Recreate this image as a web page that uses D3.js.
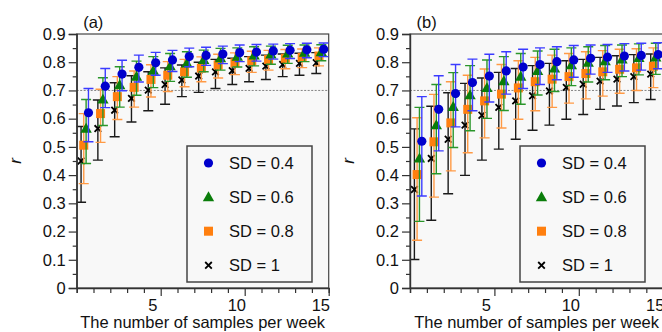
<!DOCTYPE html>
<html>
<head>
<meta charset="utf-8">
<script src="https://cdn.jsdelivr.net/npm/d3@7"></script>
<style>
  body { margin: 0; background: #fff; }
  svg { display: block; font-family: "Liberation Sans", Arial, sans-serif; }
</style>
</head>
<body>
<svg id="chart" width="662" height="332"></svg>
<script>
// samples per week (x categories)
const samples = [1, 2, 3, 4, 5, 6, 7, 8, 9, 10, 11, 12, 13, 14, 15]
const seriesNames = ['SD = 1', 'SD = 0.8', 'SD = 0.6', 'SD = 0.4']
const legendOrder = ['SD = 0.4', 'SD = 0.6', 'SD = 0.8', 'SD = 1']
const yTickValues = [0, 0.1, 0.2, 0.3, 0.4, 0.5, 0.6, 0.7, 0.8, 0.9]
const yTickLabels = ['0', '0.1', '0.2', '0.3', '0.4', '0.5', '0.6', '0.7', '0.8', '0.9']
const xTickLabels = [5, 10, 15]
const threshold = 0.7

// panel (a)
const a04Mean = [0.621, 0.715, 0.758, 0.782, 0.798, 0.808, 0.820, 0.824, 0.829, 0.834, 0.836, 0.840, 0.842, 0.844, 0.846]
const a04Hi   = [0.707, 0.778, 0.807, 0.825, 0.835, 0.842, 0.850, 0.853, 0.857, 0.861, 0.863, 0.864, 0.866, 0.867, 0.868]
const a04Lo   = [0.518, 0.639, 0.699, 0.730, 0.754, 0.767, 0.784, 0.789, 0.795, 0.802, 0.804, 0.811, 0.813, 0.816, 0.820]
const a06Mean = [0.565, 0.668, 0.719, 0.749, 0.770, 0.786, 0.796, 0.808, 0.814, 0.820, 0.824, 0.828, 0.831, 0.834, 0.836]
const a06Hi   = [0.668, 0.745, 0.784, 0.804, 0.820, 0.831, 0.837, 0.843, 0.849, 0.851, 0.855, 0.857, 0.860, 0.861, 0.862]
const a06Lo   = [0.441, 0.576, 0.641, 0.683, 0.710, 0.732, 0.747, 0.766, 0.772, 0.783, 0.787, 0.793, 0.796, 0.802, 0.805]
const a08Mean = [0.506, 0.618, 0.678, 0.711, 0.739, 0.754, 0.766, 0.779, 0.790, 0.798, 0.805, 0.810, 0.814, 0.817, 0.822]
const a08Hi   = [0.618, 0.704, 0.749, 0.769, 0.791, 0.802, 0.810, 0.819, 0.828, 0.833, 0.839, 0.842, 0.845, 0.847, 0.851]
const a08Lo   = [0.370, 0.516, 0.597, 0.641, 0.677, 0.696, 0.713, 0.731, 0.744, 0.756, 0.764, 0.772, 0.777, 0.781, 0.787]
const a10Mean = [0.450, 0.565, 0.630, 0.672, 0.701, 0.721, 0.737, 0.751, 0.766, 0.770, 0.778, 0.786, 0.792, 0.796, 0.798]
const a10Hi   = [0.572, 0.666, 0.727, 0.752, 0.766, 0.780, 0.790, 0.800, 0.810, 0.814, 0.820, 0.825, 0.829, 0.832, 0.834]
const a10Lo   = [0.304, 0.453, 0.536, 0.588, 0.628, 0.651, 0.678, 0.693, 0.707, 0.721, 0.731, 0.739, 0.749, 0.754, 0.760]

// panel (b)
const b04Mean = [0.520, 0.633, 0.689, 0.728, 0.751, 0.769, 0.783, 0.792, 0.802, 0.808, 0.814, 0.818, 0.822, 0.824, 0.827]
const b04Hi   = [0.678, 0.752, 0.792, 0.811, 0.828, 0.837, 0.846, 0.851, 0.855, 0.859, 0.861, 0.863, 0.866, 0.867, 0.869]
const b04Lo   = [0.326, 0.486, 0.571, 0.628, 0.659, 0.687, 0.707, 0.721, 0.738, 0.747, 0.758, 0.764, 0.769, 0.772, 0.777]
const b06Mean = [0.459, 0.577, 0.642, 0.683, 0.709, 0.733, 0.749, 0.769, 0.778, 0.790, 0.798, 0.804, 0.810, 0.815, 0.817]
const b06Hi   = [0.640, 0.721, 0.763, 0.788, 0.808, 0.820, 0.831, 0.840, 0.846, 0.851, 0.855, 0.859, 0.861, 0.865, 0.867]
const b06Lo   = [0.236, 0.405, 0.498, 0.557, 0.601, 0.629, 0.651, 0.684, 0.696, 0.717, 0.730, 0.738, 0.749, 0.755, 0.757]
const b08Mean = [0.402, 0.518, 0.585, 0.633, 0.663, 0.687, 0.709, 0.731, 0.740, 0.749, 0.760, 0.766, 0.775, 0.780, 0.786]
const b08Hi   = [0.603, 0.686, 0.731, 0.754, 0.776, 0.792, 0.805, 0.817, 0.825, 0.831, 0.837, 0.841, 0.846, 0.848, 0.851]
const b08Lo   = [0.169, 0.322, 0.415, 0.479, 0.532, 0.567, 0.598, 0.628, 0.640, 0.655, 0.670, 0.680, 0.690, 0.700, 0.710]
const b10Mean = [0.349, 0.459, 0.527, 0.577, 0.612, 0.640, 0.663, 0.681, 0.698, 0.711, 0.722, 0.733, 0.740, 0.749, 0.758]
const b10Hi   = [0.564, 0.644, 0.692, 0.725, 0.744, 0.764, 0.778, 0.788, 0.796, 0.805, 0.810, 0.817, 0.823, 0.827, 0.829]
const b10Lo   = [0.101, 0.240, 0.334, 0.399, 0.453, 0.492, 0.527, 0.559, 0.577, 0.598, 0.615, 0.633, 0.645, 0.657, 0.668]

// look of each series
const styles = {
  'SD = 1':   { shape: 'cross',    fill: '#000',    bar: '#1a1a1a', dx: -0.24 },
  'SD = 0.8': { shape: 'square',   fill: '#ff7f0f', bar: '#ff9a45', dx: -0.08 },
  'SD = 0.6': { shape: 'triangle', fill: '#0a7d0a', bar: '#2a962a', dx: 0.06 },
  'SD = 0.4': { shape: 'circle',   fill: '#0000cc', bar: '#3b3bff', dx: 0.2 }
}

const panels = [
  { tag: '(a)', left: 76.7, step: 16.8, legendX: 187, data: {
    'SD = 1': [a10Mean, a10Lo, a10Hi], 'SD = 0.8': [a08Mean, a08Lo, a08Hi],
    'SD = 0.6': [a06Mean, a06Lo, a06Hi], 'SD = 0.4': [a04Mean, a04Lo, a04Hi] } },
  { tag: '(b)', left: 410, step: 16.88, legendX: 520, data: {
    'SD = 1': [b10Mean, b10Lo, b10Hi], 'SD = 0.8': [b08Mean, b08Lo, b08Hi],
    'SD = 0.6': [b06Mean, b06Lo, b06Hi], 'SD = 0.4': [b04Mean, b04Lo, b04Hi] } }
]

const svg = d3.select('#chart')
const plotTop = 34, plotBottom = 288
const y = d3.scaleLinear().domain([0, 0.9]).range([plotBottom, plotTop])

function drawMarker(g, shape, color, cx, cy) {
  if (shape === 'circle') {
    g.append('circle').attr('cx', cx).attr('cy', cy).attr('r', 4.6).attr('fill', color)
  } else if (shape === 'triangle') {
    g.append('path').attr('d', d3.symbol(d3.symbolTriangle, 56)()).attr('transform', `translate(${cx},${cy + 0.8})`).attr('fill', color)
  } else if (shape === 'square') {
    g.append('rect').attr('x', cx - 4.5).attr('y', cy - 4.5).attr('width', 9).attr('height', 9).attr('fill', color)
  } else {
    g.append('path').attr('d', `M${cx - 3.3},${cy - 3.3}L${cx + 3.3},${cy + 3.3}M${cx - 3.3},${cy + 3.3}L${cx + 3.3},${cy - 3.3}`)
      .attr('stroke', color).attr('stroke-width', 1.8).attr('fill', 'none')
  }
}

panels.forEach((p, pi) => {
  const x = d3.scaleLinear().domain([0.5, 15.5]).range([p.left, p.left + 15 * p.step])
  const right = x(15.5)
  const g = svg.append('g')

  const clipId = 'clip' + pi
  svg.append('clipPath').attr('id', clipId).append('rect')
    .attr('x', p.left).attr('y', plotTop - 10).attr('width', right - p.left).attr('height', plotBottom - plotTop + 10)

  g.append('rect').attr('x', p.left).attr('y', plotTop).attr('width', right - p.left).attr('height', plotBottom - plotTop)
    .attr('fill', '#f8f8f8').attr('stroke', '#444').attr('stroke-width', 1.2)

  g.append('line').attr('x1', p.left).attr('x2', right).attr('y1', y(threshold)).attr('y2', y(threshold))
    .attr('stroke', '#666').attr('stroke-width', 0.8).attr('stroke-dasharray', '2,1.5')

  const plot = g.append('g').attr('clip-path', `url(#${clipId})`)
  seriesNames.forEach(name => {
    const st = styles[name]
    const [mean, lo, hi] = p.data[name]
    const s = plot.append('g')
    samples.forEach((n, i) => {
      const cx = x(n + st.dx)
      s.append('path')
        .attr('d', `M${cx},${y(lo[i])}V${y(hi[i])}M${cx - 5},${y(lo[i])}H${cx + 5}M${cx - 5},${y(hi[i])}H${cx + 5}`)
        .attr('stroke', st.bar).attr('stroke-width', 1.4).attr('fill', 'none')
    })
    samples.forEach((n, i) => drawMarker(s, st.shape, st.fill, x(n + st.dx), y(mean[i])))
  })

  // x axis: ticks sit at half steps, labels at whole numbers
  const xAxis = g.append('g').attr('transform', `translate(0,${plotBottom})`)
    .call(d3.axisBottom(x).tickValues(d3.range(0.5, 15.6, 1)).tickSize(5).tickFormat(''))
  xAxis.selectAll('.tick line').attr('y2', d => (Math.abs(d - 5.5) < 1e-6 || Math.abs(d - 10.5) < 1e-6 || Math.abs(d - 15.5) < 1e-6) ? 8 : 5)
  const xLab = g.append('g').attr('transform', `translate(0,${plotBottom})`)
    .call(d3.axisBottom(x).tickValues(xTickLabels).tickSize(0).tickPadding(11))
  xLab.select('.domain').remove()
  xLab.selectAll('text').attr('font-size', 16.5).attr('fill', '#111').attr('font-family', null)

  const yAxis = g.append('g').attr('transform', `translate(${p.left},0)`)
    .call(d3.axisLeft(y).tickValues(yTickValues).tickSize(8).tickPadding(3).tickFormat((d, i) => yTickLabels[i]))
  yAxis.selectAll('text').attr('font-size', 16.5).attr('fill', '#111').attr('font-family', null)
  g.append('g').attr('transform', `translate(${p.left},0)`)
    .call(d3.axisLeft(y).tickValues(d3.range(0.05, 0.9, 0.1)).tickSize(4).tickFormat(''))
    .select('.domain').remove()

  g.selectAll('.domain').attr('stroke', '#333').attr('stroke-width', 1.4)
  g.selectAll('.tick line').attr('stroke', '#333').attr('stroke-width', 1.2)

  g.append('text').attr('x', (p.left + right) / 2).attr('y', 328).attr('text-anchor', 'middle')
    .attr('font-size', 16.5).attr('fill', '#111').text('The number of samples per week')
  g.append('text').attr('transform', `translate(${p.left - 56},161) rotate(-90)`).attr('text-anchor', 'middle')
    .attr('font-size', 17).attr('font-style', 'italic').attr('fill', '#111').text('r')
  g.append('text').attr('x', p.left + 6.5).attr('y', 28).attr('font-size', 16.5).attr('fill', '#111').text(p.tag)

  // legend
  const lg = g.append('g').attr('transform', `translate(${p.legendX},146)`)
  lg.append('rect').attr('width', 125).attr('height', 136).attr('fill', '#f8f8f8').attr('stroke', '#444').attr('stroke-width', 1.5)
  legendOrder.forEach((name, i) => {
    const cy = 17 + i * 34.1
    drawMarker(lg, styles[name].shape, styles[name].fill, 21.5, cy)
    lg.append('text').attr('x', 42).attr('y', cy).attr('dy', '0.36em').attr('font-size', 16.5).attr('fill', '#111').text(name)
  })
})
</script>
</body>
</html>
